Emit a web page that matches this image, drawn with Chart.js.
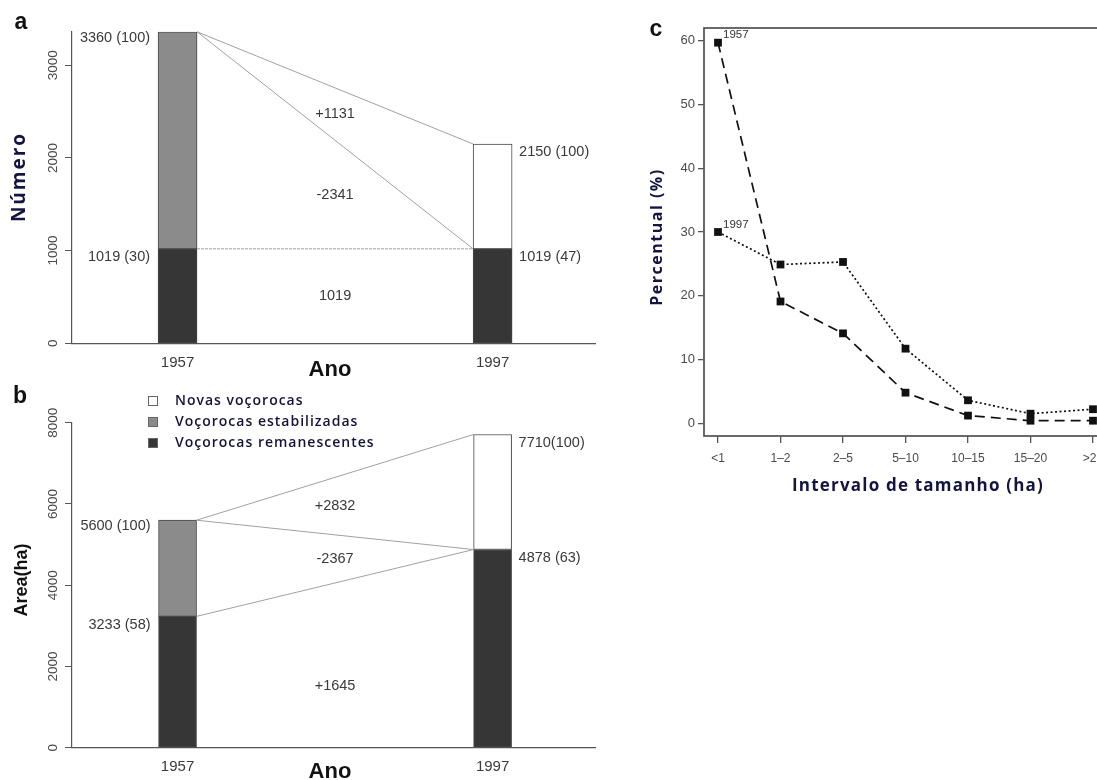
<!DOCTYPE html>
<html>
<head>
<meta charset="utf-8">
<script src="https://cdn.jsdelivr.net/npm/chart.js@4.4.1/dist/chart.umd.min.js"></script>
<style>
  html, body { margin: 0; padding: 0; background: #fff; overflow: hidden; width: 1097px; height: 780px; }
  .panel { position: absolute; }
  #wrapA { left: 0; top: 0; }
  #wrapB { left: 0; top: 380px; }
  #wrapC { left: 640px; top: 0; }
</style>
</head>
<body>
<div class="panel" id="wrapA"><canvas id="chartA" width="640" height="380"></canvas></div>
<div class="panel" id="wrapB"><canvas id="chartB" width="640" height="400"></canvas></div>
<div class="panel" id="wrapC"><canvas id="chartC" width="480" height="520"></canvas></div>
<script>
// ---------- data ----------
const years = ['1957', '1997'];

// (a) number of gullies
const numRemanescentes = [1019, 1019];
const numEstabilizadas = [2341, null];
const numNovas         = [null, 1131];
const numTicks         = [0, 1000, 2000, 3000];
const numLabels1957    = ['3360 (100)', '1019 (30)'];
const numLabels1997    = ['2150 (100)', '1019 (47)'];
const numFlows         = ['+1131', '-2341', '1019'];

// (b) area (ha)
const areaRemanescentes = [3233, 4878];
const areaEstabilizadas = [2367, null];
const areaNovas         = [null, 2832];
const areaTicks         = [0, 2000, 4000, 6000, 8000];
const areaLabels1957    = ['5600 (100)', '3233 (58)'];
const areaLabels1997    = ['7710(100)', '4878 (63)'];
const areaFlows         = ['+2832', '-2367', '+1645'];

// (c) size classes
const sizeClasses = ['<1', '1–2', '2–5', '5–10', '10–15', '15–20', '>20'];
const pct1957     = [59.7, 19.1, 14.1, 4.8, 1.2, 0.4, 0.4];
const pct1997     = [30.0, 24.9, 25.3, 11.7, 3.6, 1.5, 2.2];
const pctTicks    = [0, 10, 20, 30, 40, 50, 60];

const DARK = '#363636', GRAY = '#8b8b8b', EDGE = '#474747';
const SANS = "'Liberation Sans', Arial, sans-serif";
const OPEN = "'Open Sans', sans-serif";

const pts = arr => arr.map((v, i) => ({ x: i, y: v }));

// free text (titles, panel letters)
const textPlugin = {
  id: 'texts',
  afterDraw(chart, args, opts) {
    const ctx = chart.ctx;
    (opts.items || []).forEach(t => {
      ctx.save();
      ctx.font = t.font;
      ctx.fillStyle = t.color || '#111';
      ctx.textAlign = t.align || 'center';
      ctx.textBaseline = 'middle';
      ctx.letterSpacing = (t.spacing || 0) + 'px';
      ctx.translate(t.x, t.y);
      if (t.rot) ctx.rotate(t.rot * Math.PI / 180);
      ctx.fillText(t.text, 0, 0);
      ctx.restore();
    });
  }
};

// connecting lines between the two stacked bars + their labels
const flowPlugin = {
  id: 'flows',
  afterDatasetsDraw(chart, args, o) {
    const { ctx } = chart;
    const y = chart.scales.y;
    const ds = chart.data.datasets;
    const val = (d, i) => ds[d].data[i].y || 0;
    const bars = chart.getDatasetMeta(0).data;
    const b0 = bars[0], b1 = bars[1];
    const xL = b0.x + b0.width / 2, xR = b1.x - b1.width / 2;
    const low0 = val(0, 0), top0 = low0 + val(1, 0);
    const low1 = val(0, 1), top1 = low1 + val(2, 1);

    ctx.save();
    ctx.strokeStyle = '#a0a0a0';
    ctx.lineWidth = 1;
    const seg = (a, b, dash) => {
      ctx.setLineDash(dash || []);
      ctx.beginPath();
      ctx.moveTo(xL, y.getPixelForValue(a));
      ctx.lineTo(xR, y.getPixelForValue(b));
      ctx.stroke();
    };
    seg(top0, top1);
    seg(top0, low1);
    seg(low0, low1, low0 === low1 ? [3, 1] : []);
    ctx.setLineDash([]);

    // flow labels placed between the lines at mid width
    const m1 = (top0 + top1) / 2, m2 = (top0 + low1) / 2, m3 = (low0 + low1) / 2;
    const xm = (xL + xR) / 2;
    ctx.font = '14.5px ' + SANS;
    ctx.fillStyle = '#3a3a3a';
    ctx.textAlign = 'center';
    ctx.textBaseline = 'middle';
    ctx.fillText(o.flows[0], xm, y.getPixelForValue((m1 + m2) / 2));
    ctx.fillText(o.flows[1], xm, y.getPixelForValue((m2 + m3) / 2));
    ctx.fillText(o.flows[2], xm, y.getPixelForValue(m3 * o.lowFrac));

    // value labels beside the bars
    ctx.textBaseline = 'top';
    ctx.textAlign = 'right';
    ctx.fillText(o.left[0], b0.x - b0.width / 2 - 8, y.getPixelForValue(top0) - 1);
    ctx.fillText(o.left[1], b0.x - b0.width / 2 - 8, y.getPixelForValue(low0) + 1);
    ctx.textAlign = 'left';
    ctx.fillText(o.right[0], b1.x + b1.width / 2 + 7, y.getPixelForValue(top1) + 1);
    ctx.fillText(o.right[1], b1.x + b1.width / 2 + 7, y.getPixelForValue(low1) + 1);
    ctx.restore();
  }
};

// legend of panel b
const legendPlugin = {
  id: 'boxLegend',
  afterDraw(chart, args, o) {
    if (!o.show) return;
    const ctx = chart.ctx;
    const items = chart.data.datasets.slice().reverse();
    ctx.save();
    items.forEach((d, i) => {
      const cy = o.y + i * o.step;
      ctx.fillStyle = d.backgroundColor;
      ctx.fillRect(o.x, cy - 5, 10, 10);
      ctx.strokeStyle = '#666';
      ctx.lineWidth = 1;
      ctx.strokeRect(o.x + 0.5, cy - 4.5, 9, 9);
      ctx.font = '600 14px ' + OPEN;
      ctx.letterSpacing = '1px';
      ctx.fillStyle = '#14143a';
      ctx.textAlign = 'left';
      ctx.textBaseline = 'middle';
      ctx.fillText(d.label, o.x + 27, cy);
    });
    ctx.restore();
  }
};

function barPanel(id, rem, est, nov, ticks, yMax, pad, xH, thick, labelPad, flowOpts, texts, legend) {
  return new Chart(document.getElementById(id), {
    type: 'bar',
    data: {
      datasets: [
        { label: 'Voçorocas remanescentes', data: pts(rem), backgroundColor: DARK },
        { label: 'Voçorocas estabilizadas', data: pts(est), backgroundColor: GRAY },
        { label: 'Novas voçorocas', data: pts(nov), backgroundColor: '#ffffff' }
      ]
    },
    options: {
      responsive: false,
      animation: false,
      devicePixelRatio: 1,
      layout: { padding: pad },
      datasets: { bar: { barThickness: thick, borderWidth: 1, borderColor: EDGE, borderSkipped: false } },
      plugins: {
        legend: { display: false },
        tooltip: { enabled: false },
        flows: flowOpts,
        texts: { items: texts },
        boxLegend: legend
      },
      scales: {
        x: {
          type: 'linear', stacked: true, offset: false, min: -0.335, max: 1.325,
          afterBuildTicks: s => { s.ticks = years.map((_, i) => ({ value: i })); },
          afterFit: s => { s.height = xH; },
          grid: { display: false, drawTicks: false, offset: false },
          border: { display: true, color: '#555', width: 1.2 },
          ticks: { callback: v => years[v] ?? '', font: { family: SANS, size: 15 }, color: '#3c3c3c', padding: labelPad, maxRotation: 0 }
        },
        y: {
          stacked: true, min: 0, max: yMax,
          afterBuildTicks: s => { s.ticks = ticks.map(v => ({ value: v })); },
          afterFit: s => { s.width = 72; },
          grid: { drawOnChartArea: false, drawTicks: true, tickLength: 7, color: '#555' },
          border: { display: true, color: '#555', width: 1.2 },
          ticks: { autoSkip: false, minRotation: 90, maxRotation: 90, crossAlign: 'center', padding: -3,
                   callback: v => String(v),
                   font: { family: SANS, size: 13.5 }, color: '#4a4a4a' }
        }
      }
    },
    plugins: [flowPlugin, textPlugin, legendPlugin]
  });
}

// ---------- (a) ----------
barPanel('chartA', numRemanescentes, numEstabilizadas, numNovas, numTicks, 3360,
  { top: 31.8, right: 45, bottom: 0, left: 0 }, 36.7, 39, 11,
  { flows: numFlows, left: numLabels1957, right: numLabels1997, lowFrac: 0.5 },
  [
    { text: 'a', x: 21, y: 23, font: 'bold 23px ' + SANS },
    { text: 'Número', x: 20, y: 177, rot: -90, font: 'bold 19px ' + OPEN, spacing: 2, color: '#141440' },
    { text: 'Ano', x: 330, y: 370, font: 'bold 22px ' + SANS }
  ],
  { show: false });

// ---------- (b) ----------
barPanel('chartB', areaRemanescentes, areaEstabilizadas, areaNovas, areaTicks, 8000,
  { top: 42.7, right: 45, bottom: 0, left: 0 }, 32.3, 38, 10,
  { flows: areaFlows, left: areaLabels1957, right: areaLabels1997, lowFrac: 0.375 },
  [
    { text: 'b', x: 20, y: 17, font: 'bold 23px ' + SANS },
    { text: 'Area(ha)', x: 22, y: 200, rot: -90, font: 'bold 18px ' + SANS },
    { text: 'Ano', x: 330, y: 392, font: 'bold 22px ' + SANS }
  ],
  { show: true, x: 148, y: 21, step: 21 });

// ---------- (c) ----------
const labelPlugin = {
  id: 'seriesTags',
  afterDatasetsDraw(chart) {
    const ctx = chart.ctx;
    ctx.save();
    ctx.font = '11.5px ' + SANS;
    ctx.fillStyle = '#333';
    ctx.textAlign = 'left';
    ctx.textBaseline = 'middle';
    chart.data.datasets.forEach((d, i) => {
      const p = chart.getDatasetMeta(i).data[0];
      ctx.fillText(d.label, p.x + 5, p.y - 7.5);
    });
    ctx.restore();
  }
};
const framePlugin = {
  id: 'frame',
  afterDraw(chart) {
    const { ctx, chartArea: a } = chart;
    ctx.save();
    ctx.strokeStyle = '#5a5a5a';
    ctx.lineWidth = 1.8;
    ctx.strokeRect(a.left, a.top, a.right - a.left, a.bottom - a.top);
    ctx.restore();
  }
};

new Chart(document.getElementById('chartC'), {
  type: 'line',
  data: {
    datasets: [
      { label: '1957', data: pts(pct1957), borderColor: '#111', borderWidth: 1.7, borderDash: [10, 6],
        pointStyle: 'rect', pointRadius: 5.5, pointBackgroundColor: '#111', pointBorderColor: '#111', pointBorderWidth: 0 },
      { label: '1997', data: pts(pct1997), borderColor: '#111', borderWidth: 1.7, borderDash: [2, 2.5],
        pointStyle: 'rect', pointRadius: 5.5, pointBackgroundColor: '#111', pointBorderColor: '#111', pointBorderWidth: 0 }
    ]
  },
  options: {
    responsive: false,
    animation: false,
    devicePixelRatio: 1,
    layout: { padding: { top: 28, right: 13, bottom: 0, left: 0 } },
    plugins: {
      legend: { display: false },
      tooltip: { enabled: false },
      texts: { items: [
        { text: 'c', x: 16, y: 30, font: 'bold 23px ' + SANS },
        { text: 'Percentual (%)', x: 17, y: 237, rot: -90, font: 'bold 16px ' + OPEN, spacing: 1.5, color: '#141440' },
        { text: 'Intervalo de tamanho (ha)', x: 278, y: 486, font: 'bold 17px ' + OPEN, spacing: 1.2, color: '#141440' }
      ] }
    },
    scales: {
      x: {
        type: 'linear', min: -0.224, max: 6.224,
        afterBuildTicks: s => { s.ticks = sizeClasses.map((_, i) => ({ value: i })); },
        afterFit: s => { s.height = 84; },
        grid: { drawOnChartArea: false, drawTicks: true, tickLength: 7, color: '#555', lineWidth: 1.3 },
        border: { display: false },
        ticks: { callback: v => sizeClasses[v] ?? '', font: { family: SANS, size: 12 }, color: '#4a4a4a', padding: 8, maxRotation: 0 }
      },
      y: {
        min: -2, max: 62,
        afterBuildTicks: s => { s.ticks = pctTicks.map(v => ({ value: v })); },
        afterFit: s => { s.width = 64; },
        grid: { drawOnChartArea: false, drawTicks: true, tickLength: 6, color: '#555', lineWidth: 1.3 },
        border: { display: false },
        ticks: { autoSkip: false, padding: 3, font: { family: SANS, size: 13 }, color: '#4a4a4a' }
      }
    }
  },
  plugins: [framePlugin, labelPlugin, textPlugin]
});
</script>
</body>
</html>
